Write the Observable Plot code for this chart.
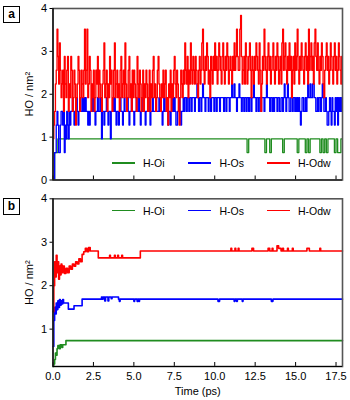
<!DOCTYPE html>
<html><head><meta charset="utf-8">
<script src="https://cdn.jsdelivr.net/npm/d3@7"></script>
<script src="https://cdn.jsdelivr.net/npm/@observablehq/plot@0.6"></script>
<style>
body{margin:0;background:#fff;font-family:"Liberation Sans",Arial,sans-serif;}
#wrap{position:relative;width:350px;height:400px;overflow:hidden;}
.panel{position:absolute;left:0;}
.tag{position:absolute;left:3px;width:15px;height:15px;border:1.5px solid #000;font-weight:bold;font-size:12px;line-height:15px;text-align:center;background:#fff;}
.lg{position:absolute;height:1.5px;width:23px;}
.lt{position:absolute;font-size:10.5px;line-height:12px;color:#000;}
</style></head>
<body><div id="wrap"></div>
<script>
// ---- data ----
const seriesNames = ["H-Oi", "H-Os", "H-Odw"];
const seriesColors = ["#1f8c1f", "#0000ff", "#ff0000"];
const xTicks = [0, 2.5, 5, 7.5, 10, 12.5, 15, 17.5];
const yTicksA = [0, 1, 2, 3, 4];
const yTicksB = [1, 2, 3, 4];
const dtA = 0.05; // sampling step (ps) of panel a series

// panel a: H-Odw (red), one value per 0.05 ps (one row = 1 ps)
const redA = [
0.96,1.28,1.6,2.24,2.56,3.52,2.88,2.24,3.2,2.56,1.92,2.24,2.56,1.6,2.88,2.24,1.92,2.56,2.88,1.6,
2.24,1.92,2.88,2.56,1.6,1.92,2.56,2.24,1.28,1.92,2.24,2.88,2.56,1.6,1.92,2.56,2.24,1.92,2.56,3.52,
2.24,2.56,3.52,1.92,2.24,2.88,2.56,1.6,2.24,1.92,2.56,1.6,1.92,2.56,2.24,2.88,1.92,2.56,2.24,1.92,
1.6,2.24,2.56,3.2,1.92,2.24,2.56,1.6,2.24,1.92,2.88,2.24,2.56,1.6,1.92,2.56,3.2,1.92,2.24,2.56,
1.92,2.24,1.6,2.56,2.88,1.92,2.24,2.56,1.92,3.2,2.24,1.6,1.92,2.56,2.88,1.92,2.24,1.6,2.56,1.92,
2.56,2.24,1.92,1.6,2.88,2.24,1.92,2.56,2.24,1.6,1.92,2.56,1.6,2.24,1.92,2.56,2.24,1.6,1.92,2.56,
1.6,2.24,1.92,2.56,2.88,1.92,2.24,1.6,1.92,2.56,2.88,2.24,1.92,1.6,2.24,1.92,2.56,1.92,2.24,2.56,
1.6,1.92,1.28,2.24,1.92,2.56,1.6,2.24,1.92,2.56,2.88,2.24,1.92,2.56,2.24,1.6,1.28,1.92,2.56,2.24,
1.92,2.56,2.24,3.2,2.56,2.24,2.88,1.92,2.56,2.24,3.2,2.56,2.24,2.88,2.56,2.24,2.88,2.56,2.24,1.92,
2.56,2.88,2.24,2.56,3.2,3.52,2.56,2.24,2.88,2.56,3.2,2.88,2.24,2.56,1.92,2.88,2.56,2.24,2.88,2.56,
3.2,2.56,2.88,2.24,2.56,3.2,2.88,2.56,2.24,2.88,3.2,2.56,2.24,2.88,2.56,3.2,2.88,2.24,2.56,2.88,
2.56,2.24,2.88,2.56,3.2,2.56,2.88,3.52,2.88,2.56,2.56,3.52,3.84,2.88,2.24,2.56,2.88,2.24,3.2,2.88,
2.24,2.56,2.88,3.2,2.56,1.92,2.88,2.56,2.24,2.88,2.56,3.2,2.88,2.56,2.24,3.2,2.56,1.6,2.24,2.88,
2.56,3.52,2.88,2.56,2.24,2.88,3.2,2.56,2.88,2.24,2.56,2.88,3.2,2.56,2.24,2.88,2.56,3.2,2.88,2.24,
2.56,2.88,2.24,3.2,3.52,2.56,2.88,3.2,2.56,2.24,2.88,2.56,3.2,2.56,2.88,1.92,2.56,2.88,2.24,3.2,
2.56,2.88,3.52,2.56,2.24,2.88,2.56,3.2,2.88,2.56,2.24,2.88,3.2,2.56,2.88,2.24,3.52,2.56,2.88,3.2,
2.56,2.88,2.24,3.2,3.52,2.88,2.56,3.2,2.56,2.24,2.88,2.56,3.2,2.88,2.24,1.92,2.56,2.88,3.2,2.56,
2.88,2.24,2.56,3.2,2.88,2.56,2.24,2.88,3.2,2.56,2.88,2.24,2.56,3.2,2.88,2.56,2.24,2.88,2.56,2.88];

// panel a: H-Os (blue), one value per 0.05 ps (one row = 1 ps)
const blueA = [
0,0,0.64,0.64,1.28,1.6,1.28,0.64,0.64,1.28,1.6,1.6,1.28,1.6,0.64,1.28,0.96,1.6,1.28,0.96,
1.6,1.28,1.6,1.6,1.92,1.6,1.28,1.6,1.6,1.92,1.6,1.28,1.6,1.92,1.6,1.6,1.92,1.6,1.92,1.6,
1.92,1.6,1.6,1.28,1.6,1.28,1.6,1.6,1.92,1.6,1.92,1.6,1.28,1.6,1.6,1.92,1.6,1.6,1.92,1.6,
0.96,1.6,1.6,1.28,1.6,1.6,1.92,1.6,1.28,1.6,1.6,0.96,1.6,1.6,1.92,1.6,1.92,1.6,1.28,1.6,
1.6,1.28,1.6,1.92,1.6,1.6,1.28,1.6,1.92,1.6,1.6,1.6,1.92,1.6,1.28,1.6,1.6,1.92,1.6,1.6,
1.28,1.6,1.6,1.92,1.6,1.6,1.92,1.6,1.28,1.6,1.6,1.92,1.6,1.6,1.28,1.6,1.6,1.6,1.92,1.6,
1.28,1.6,1.6,1.92,1.6,1.6,1.6,1.92,1.6,1.6,1.6,1.92,1.6,1.6,1.6,1.28,1.6,1.92,1.6,1.6,
1.92,1.6,1.28,1.6,1.6,1.28,1.6,1.6,1.92,1.6,1.92,1.6,1.28,1.28,1.6,1.6,1.92,1.6,1.28,1.6,
1.6,1.92,1.6,1.92,1.92,1.6,1.92,1.92,1.6,1.92,1.92,1.6,1.92,1.92,1.92,1.6,1.92,1.92,2.24,1.92,
1.6,1.92,1.92,1.6,1.92,2.24,1.92,1.92,1.6,1.92,1.92,1.92,1.6,1.92,1.92,1.6,1.92,1.92,1.92,1.6,
1.92,1.92,1.6,1.92,1.92,1.92,1.6,1.92,1.92,1.92,1.92,1.6,1.92,1.92,1.6,1.92,1.92,1.92,1.6,1.92,
1.92,2.24,1.92,1.92,2.24,1.92,1.92,1.6,1.92,1.92,2.24,1.92,1.92,1.6,1.92,1.92,1.6,1.92,1.92,1.6,
1.92,1.92,1.6,1.92,1.92,1.6,1.92,1.92,2.24,1.92,1.92,1.6,1.92,1.92,1.6,1.92,1.92,1.6,1.92,1.92,
1.92,1.6,1.92,1.92,2.24,1.92,1.92,1.92,1.6,1.92,1.92,1.6,1.92,1.6,1.92,1.92,1.92,1.6,1.92,1.92,
1.6,1.6,1.92,1.92,1.6,1.92,2.24,1.92,1.6,1.92,2.24,1.92,1.6,1.6,1.92,1.92,1.6,1.92,1.92,1.6,
1.92,1.6,1.92,1.6,1.92,1.6,1.28,1.6,1.92,1.92,1.6,1.6,1.92,1.6,1.92,2.24,1.92,1.92,2.24,1.92,
1.92,2.24,2.24,1.92,1.92,1.6,1.6,1.92,1.6,1.92,1.92,1.6,1.92,2.24,1.92,1.6,1.6,1.92,1.6,1.28,
1.28,1.6,1.92,1.6,1.28,1.92,1.6,1.6,1.28,1.92,1.6,1.92,1.28,1.92,1.6,1.92,1.6,1.92,1.6,1.92];

// panel a: H-Oi (green), change points
const greenA_t = [0,0.1,0.3,12.0,12.1,13.1,13.2,13.4,13.5,14.2,14.3,15.1,15.2,15.6,15.7,15.8,15.9,16.5,16.6,16.7,16.8,16.9,17.0,17.4,17.5,17.6,17.8,17.9];
const greenA_v = [0,0.64,0.96,0.64,0.96,0.64,0.96,0.64,0.96,0.64,0.96,0.64,0.96,0.64,0.96,0.64,0.96,0.64,0.96,0.64,0.96,0.64,0.96,0.64,0.96,0.64,0.96,0.96];

// panel b: running averages, change points
const greenB_t = [0,0.05,0.1,0.15,0.2,0.25,0.3,0.4,0.45,0.55,0.6,0.8,17.9];
const greenB_v = [0.14,0.2,0.3,0.45,0.4,0.55,0.62,0.55,0.64,0.58,0.64,0.735,0.735];

const blueB_t = [0,0.05,0.1,0.15,0.2,0.25,0.3,0.35,0.4,0.45,0.5,0.55,0.6,0.65,0.95,1.3,1.8,3.0,3.05,3.1,3.2,3.25,3.4,3.45,3.6,3.65,4.05,4.1,4.15,5.0,5.05,5.2,5.25,5.3,5.35,10.2,10.3,11.2,11.25,11.35,11.4,11.7,11.75,13.5,13.6,17.9];
const blueB_v = [0.6,1.2,1.5,1.35,1.6,1.45,1.65,1.5,1.68,1.55,1.65,1.58,1.68,1.6,1.46,1.54,1.69,1.74,1.69,1.74,1.65,1.74,1.65,1.74,1.7,1.74,1.69,1.64,1.69,1.64,1.69,1.64,1.69,1.64,1.69,1.64,1.69,1.64,1.69,1.64,1.69,1.64,1.69,1.64,1.69,1.69];

const redB_t = [0,0.05,0.1,0.15,0.2,0.25,0.3,0.35,0.4,0.45,0.5,0.55,0.6,0.7,0.8,0.9,1.0,1.1,1.2,1.3,1.4,1.5,1.6,1.7,1.8,1.9,2.0,2.1,2.2,2.3,2.8,3.5,3.55,3.8,3.85,4.0,4.05,4.25,4.3,5.4,11.0,11.05,11.25,11.3,11.45,11.5,12.3,12.4,13.3,13.4,13.55,13.6,13.85,13.95,14.1,14.2,14.25,14.5,14.55,14.8,14.85,15.7,15.85,16.5,16.55,17.9];
const redB_v = [1.4,2.0,2.55,2.2,2.7,2.3,2.55,2.15,2.45,2.25,2.5,2.3,2.45,2.28,2.4,2.3,2.45,2.38,2.5,2.45,2.55,2.5,2.62,2.55,2.72,2.78,2.86,2.78,2.88,2.8,2.64,2.7,2.64,2.7,2.64,2.7,2.64,2.7,2.64,2.8,2.86,2.8,2.86,2.8,2.86,2.8,2.86,2.8,2.86,2.8,2.86,2.8,2.92,2.86,2.8,2.86,2.8,2.86,2.8,2.86,2.8,2.86,2.8,2.86,2.8,2.8];

// ---- build tables ----
const grid = (vals) => vals.map((v, i) => ({t: i * dtA, v}));
const pairs = (ts, vs) => ts.map((t, i) => ({t, v: vs[i]}));

const FONT = '"Liberation Sans", Arial, sans-serif';
const xDomain = [0, 17.9];

const plotA = Plot.plot({
  width: 350, height: 190,
  marginLeft: 52.5, marginRight: 8, marginTop: 8, marginBottom: 10.5,
  x: {domain: xDomain, axis: null},
  y: {domain: [0, 4]},
  style: {fontFamily: FONT, fontSize: "11px", color: "#000", background: "transparent", overflow: "visible"},
  marks: [
    Plot.lineY(pairs(greenA_t, greenA_v), {x: "t", y: "v", curve: "step-after", stroke: seriesColors[0], strokeWidth: 1.3, clip: true}),
    Plot.lineY(grid(blueA), {x: "t", y: "v", curve: "step-after", stroke: seriesColors[1], strokeWidth: 1.35, clip: true}),
    Plot.lineY(grid(redA), {x: "t", y: "v", curve: "step-after", stroke: seriesColors[2], strokeWidth: 1.35, clip: true}),
    Plot.tickX(xTicks, {x: d => d, insetTop: 167.5, stroke: "#000", strokeWidth: 1}),
    Plot.frame({stroke: "#555", strokeWidth: 1.6}),
    Plot.ruleX([0], {stroke: "#000", strokeWidth: 1.2}),
    Plot.ruleY([0], {stroke: "#000", strokeWidth: 1.2}),
    Plot.axisY({ticks: yTicksA, tickSize: 3, tickPadding: 3, tickFormat: d => String(d), label: "HO / nm²", labelAnchor: "center", labelOffset: 28, labelArrow: "none"})
  ]
});

const plotB = Plot.plot({
  width: 350, height: 210,
  marginLeft: 52.5, marginRight: 8, marginTop: 8.3, marginBottom: 34,
  x: {domain: xDomain},
  y: {domain: [0.14, 4]},
  style: {fontFamily: FONT, fontSize: "11px", color: "#000", background: "transparent", overflow: "visible"},
  marks: [
    Plot.lineY(pairs(greenB_t, greenB_v), {x: "t", y: "v", curve: "step-after", stroke: seriesColors[0], strokeWidth: 1.6}),
    Plot.lineY(pairs(blueB_t, blueB_v), {x: "t", y: "v", curve: "step-after", stroke: seriesColors[1], strokeWidth: 1.6}),
    Plot.lineY(pairs(redB_t, redB_v), {x: "t", y: "v", curve: "step-after", stroke: seriesColors[2], strokeWidth: 1.6}),
    Plot.tickX(xTicks, {x: d => d, insetTop: 163.7, stroke: "#000", strokeWidth: 1}),
    Plot.frame({stroke: "#555", strokeWidth: 1.6}),
    Plot.ruleX([0], {stroke: "#000", strokeWidth: 1.2}),
    Plot.ruleY([0.14], {stroke: "#000", strokeWidth: 1.2}),
    Plot.axisY({ticks: yTicksB, tickSize: 3, tickPadding: 3, tickFormat: d => String(d), label: "HO / nm²", labelAnchor: "center", labelOffset: 28, labelArrow: "none"}),
    Plot.axisX({ticks: xTicks, tickSize: 0, tickPadding: 6, tickFormat: d3.format(".1f"), label: "Time (ps)", labelAnchor: "center", labelOffset: 28, labelArrow: "none"})
  ]
});

const wrap = document.getElementById("wrap");
function place(el, top) { const d = document.createElement("div"); d.className = "panel"; d.style.top = top + "px"; d.appendChild(el); wrap.appendChild(d); }
place(plotA, 0);
place(plotB, 190);

function tag(txt, top) { const d = document.createElement("div"); d.className = "tag"; d.style.top = top + "px"; d.textContent = txt; wrap.appendChild(d); }
tag("a", 6);
tag("b", 198);

const legX = [[111.5, 143], [187.5, 219.5], [266.5, 298]];
function legend(y) {
  seriesNames.forEach((n, i) => {
    const l = document.createElement("div"); l.className = "lg";
    l.style.left = legX[i][0] + "px"; l.style.top = (y - 0.75) + "px"; l.style.background = seriesColors[i];
    wrap.appendChild(l);
    const t = document.createElement("div"); t.className = "lt";
    t.style.left = legX[i][1] + "px"; t.style.top = (y - 6) + "px"; t.textContent = n;
    wrap.appendChild(t);
  });
}
legend(163);
legend(210.5);
</script></body></html>
